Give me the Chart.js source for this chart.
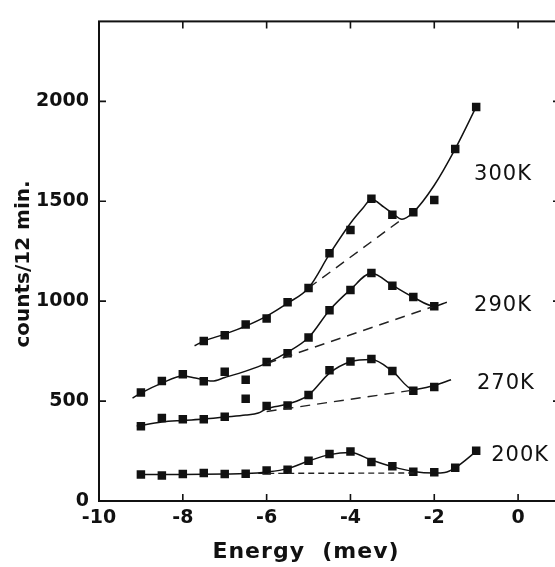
<!DOCTYPE html>
<html>
<head>
<meta charset="utf-8">
<script src="https://cdn.jsdelivr.net/npm/chart.js@4.4.1/dist/chart.umd.min.js"></script>
<style>
  html, body { margin: 0; padding: 0; background: #fff; overflow: hidden; }
  canvas { display: block; }
</style>
</head>
<body>
<canvas id="chartE" width="566" height="567"></canvas>
<script>
// tick labels
const xTicks = [-10, -8, -6, -4, -2, 0];
const yTicks = [0, 500, 1000, 1500, 2000];
const tempLabels = ['300K', '290K', '270K', '200K'];

// measured points (energy in mev)
const energy = [-9, -8.5, -8, -7.5, -7, -6.5, -6, -5.5, -5, -4.5, -4, -3.5, -3, -2.5, -2, -1.5, -1];
const counts200 = [133, 128, 135, 140, 135, 136, 153, 156, 202, 235, 248, 195, 174, 146, 144, 166, 251];
const energy270 = [-9, -8.5, -8, -7.5, -7, -6.5, -6, -5.5, -5, -4.5, -4, -3.5, -3, -2.5, -2];
const counts270 = [374, 415, 409, 409, 422, 512, 476, 478, 530, 654, 698, 711, 650, 552, 570];
const energy290 = [-9, -8.5, -8, -7.5, -7, -6.5, -6, -5.5, -5, -4.5, -4, -3.5, -3, -2.5, -2];
const counts290 = [543, 601, 634, 599, 647, 607, 695, 739, 818, 954, 1056, 1141, 1077, 1021, 974];
const energy300 = [-7.5, -7, -6.5, -6, -5.5, -5, -4.5, -4, -3.5, -3, -2.5, -2, -1.5, -1];
const counts300 = [801, 829, 883, 913, 994, 1066, 1240, 1356, 1512, 1433, 1445, 1506, 1762, 1972];

// solid fitted curves
const fitE200 = [-9, -8, -7, -6.5, -6, -5.5, -5, -4.5, -4, -3.5, -3, -2.5, -2, -1.75, -1.5, -1];
const fitC200 = [132, 133, 135, 137, 145, 162, 200, 232, 243, 205, 172, 148, 140, 143, 166, 248];
const fitE270 = [-9.1, -8.5, -8, -7.5, -7, -6.5, -6.2, -6, -5.5, -5, -4.5, -4, -3.5, -3, -2.5, -2, -1.6];
const fitC270 = [375, 395, 403, 410, 420, 430, 440, 462, 485, 530, 640, 697, 708, 650, 558, 578, 607];
const fitE290 = [-9.2, -9, -8.5, -8, -7.7, -7.3, -7, -6.5, -6, -5.5, -5, -4.5, -4, -3.5, -3, -2.5, -2, -1.7];
const fitC290 = [515, 540, 590, 625, 615, 600, 618, 650, 690, 745, 818, 955, 1058, 1140, 1080, 1020, 975, 995];
const fitE300 = [-7.72, -7.5, -7, -6.5, -6, -5.5, -5, -4.5, -4, -3.7, -3.5, -3.2, -3, -2.77, -2.5, -2, -1.5, -1];
const fitC300 = [777, 800, 835, 875, 925, 990, 1066, 1235, 1390, 1466, 1510, 1470, 1440, 1410, 1445, 1580, 1762, 1972];

// dashed background lines
const baseE200 = [-6.2, -2.4];
const baseC200 = [138, 140];
const baseE270 = [-6, -2.5];
const baseC270 = [448, 555];
const baseE290 = [-6, -2];
const baseC290 = [688, 975];
const baseE300 = [-5, -2.77];
const baseC300 = [1066, 1410];

function pts(xs, ys) {
  return xs.map((x, i) => ({ x: x, y: ys[i] }));
}

function markers(xs, ys) {
  return {
    data: pts(xs, ys),
    showLine: false,
    pointStyle: 'rect',
    pointRadius: 6,
    pointHoverRadius: 6,
    backgroundColor: '#111',
    borderColor: '#111',
    borderWidth: 0
  };
}

function curve(xs, ys) {
  return {
    data: pts(xs, ys),
    showLine: true,
    pointRadius: 0,
    borderColor: '#111',
    borderWidth: 1.5,
    cubicInterpolationMode: 'monotone'
  };
}

function dashed(xs, ys, dash) {
  return {
    data: pts(xs, ys),
    showLine: true,
    pointRadius: 0,
    borderColor: '#222',
    borderWidth: 1.4,
    borderDash: dash
  };
}

// frame, inward ticks and texts
const framePlugin = {
  id: 'frame',
  afterDraw(chart) {
    const ctx = chart.ctx;
    const a = chart.chartArea;
    const xs = chart.scales.x;
    const ys = chart.scales.y;
    ctx.save();
    ctx.strokeStyle = '#111';
    ctx.lineWidth = 2;
    ctx.strokeRect(a.left, a.top, a.right - a.left, a.bottom - a.top);
    ctx.lineWidth = 1.6;
    ctx.beginPath();
    xTicks.forEach(v => {
      const px = xs.getPixelForValue(v);
      ctx.moveTo(px, a.bottom); ctx.lineTo(px, a.bottom - 7);
      ctx.moveTo(px, a.top); ctx.lineTo(px, a.top + 7);
    });
    yTicks.forEach(v => {
      const py = ys.getPixelForValue(v);
      ctx.moveTo(a.left, py); ctx.lineTo(a.left + 7, py);
      ctx.moveTo(a.right, py); ctx.lineTo(a.right - 7, py);
    });
    ctx.stroke();

    ctx.fillStyle = '#111';
    ctx.textAlign = 'center';
    ctx.textBaseline = 'middle';
    // temperature labels
    ctx.font = '21px "DejaVu Sans"';
    ctx.letterSpacing = '1px';
    const labelPos = [[-0.36, 1635], [-0.36, 980], [-0.29, 586], [0.05, 227]];
    tempLabels.forEach((t, i) => {
      ctx.fillText(t, xs.getPixelForValue(labelPos[i][0]), ys.getPixelForValue(labelPos[i][1]));
    });
    // axis titles
    ctx.font = 'bold 22px "DejaVu Sans"';
    ctx.letterSpacing = '1px';
    ctx.fillText('Energy  (mev)', 306, 552);
    ctx.translate(24, 264);
    ctx.rotate(-Math.PI / 2);
    ctx.font = 'bold 20px "DejaVu Sans"';
    ctx.letterSpacing = '0px';
    ctx.fillText('counts/12 min.', 0, 0);
    ctx.restore();
  }
};

new Chart(document.getElementById('chartE'), {
  type: 'scatter',
  data: {
    datasets: [
      curve(fitE300, fitC300), dashed(baseE300, baseC300, [10, 7]), markers(energy300, counts300),
      curve(fitE290, fitC290), dashed(baseE290, baseC290, [10, 7]), markers(energy290, counts290),
      curve(fitE270, fitC270), dashed(baseE270, baseC270, [10, 7]), markers(energy270, counts270),
      curve(fitE200, fitC200), dashed(baseE200, baseC200, [6, 4]), markers(energy, counts200)
    ]
  },
  options: {
    responsive: false,
    animation: false,
    layout: { padding: { top: 14, right: 5, left: 0, bottom: 0 } },
    plugins: { legend: { display: false }, tooltip: { enabled: false } },
    scales: {
      x: {
        type: 'linear',
        min: -10,
        max: 1,
        afterBuildTicks: s => { s.ticks = xTicks.map(v => ({ value: v })); },
        afterFit: s => { s.height = 66; },
        grid: { display: false, drawTicks: false },
        border: { display: false },
        ticks: {
          padding: 6,
          autoSkip: false,
          maxRotation: 0,
          color: '#111',
          font: { family: 'DejaVu Sans', size: 19, weight: 'bold' }
        }
      },
      y: {
        min: 0,
        max: 2400,
        afterBuildTicks: s => { s.ticks = yTicks.map(v => ({ value: v })); },
        afterFit: s => { s.width = 99; },
        grid: { display: false, drawTicks: false },
        border: { display: false },
        ticks: {
          padding: 10,
          autoSkip: false,
          color: '#111',
          font: { family: 'DejaVu Sans', size: 19, weight: 'bold' },
          callback: v => String(v)
        }
      }
    }
  },
  plugins: [framePlugin]
});
</script>
</body>
</html>
